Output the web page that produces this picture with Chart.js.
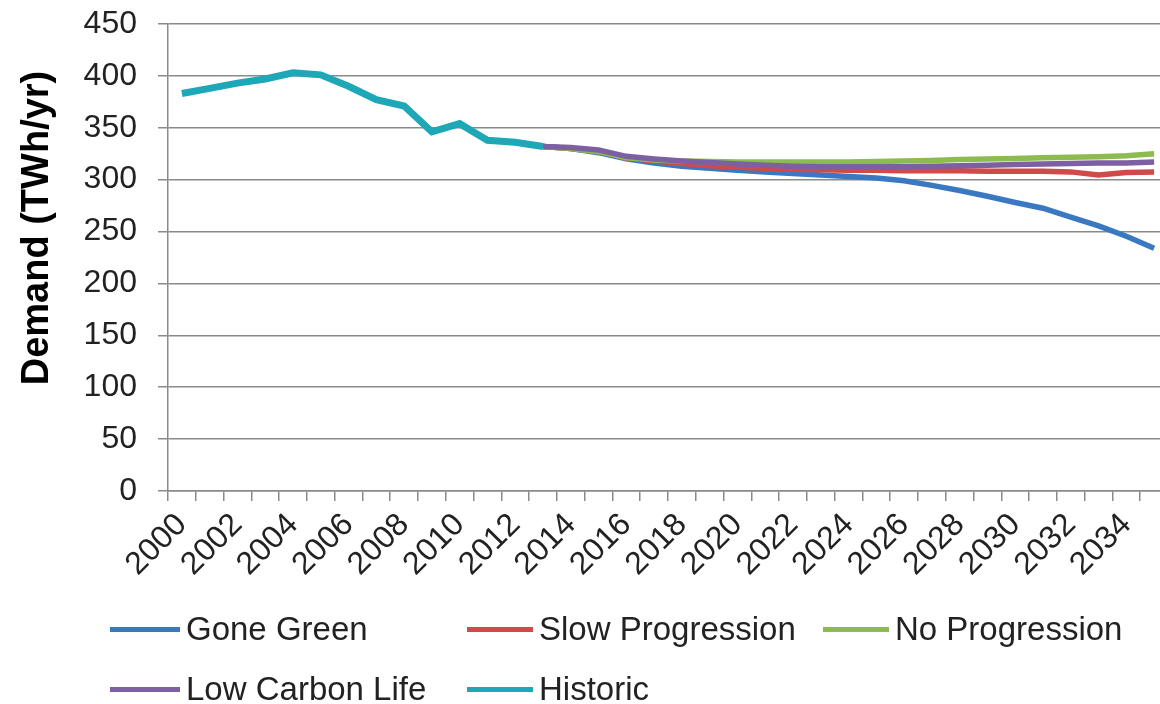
<!DOCTYPE html>
<html>
<head>
<meta charset="utf-8">
<script src="https://cdn.jsdelivr.net/npm/chart.js@4.4.1/dist/chart.umd.min.js"></script>
<style>
    html, body { margin: 0; padding: 0; background: #fff; overflow: hidden; }
    #wrap { position: relative; width: 1172px; height: 704px; }
    .legend-item {
        position: absolute;
        display: flex;
        align-items: center;
        height: 40px;
        font-family: "Liberation Sans", Arial, sans-serif;
        font-size: 33px;
        color: #222;
        white-space: nowrap;
    }
    .legend-line { display: inline-block; height: 5px; margin-right: 6px; }
</style>
</head>
<body>
<div id="wrap">
    <canvas id="demandChart" width="1172" height="704"></canvas>
    <div id="legend"></div>
</div>
<script>
// Years on the x axis
const years = [];
for (let y = 2000; y <= 2035; y++) years.push(String(y));

// Historic demand (TWh/yr), 2000-2013
const historic = [383, 388, 393, 397, 403, 401, 390, 377, 371, 346, 354, 338, 336, 332];

// Scenarios, 2013-2035
const goneGreen = [332, 330, 326, 320, 316, 313, 311, 309, 307.5, 306, 304.5, 303, 301.5, 299,
    294.5, 289.5, 284, 278, 272.5, 264, 255.5, 245.5, 234];
const slowProgression = [332, 330, 327, 321, 318, 315.5, 313.5, 312, 311, 310, 309.5, 309, 309, 308.5,
    308.5, 308.5, 308, 308, 308, 307.5, 304.5, 307, 307.5];
const noProgression = [332, 330, 327, 321, 319, 318, 317.5, 317, 317, 317, 317, 317, 317.5, 318,
    318.5, 319.5, 320, 320.5, 321, 321.5, 322, 323, 325];
const lowCarbonLife = [332, 331, 328.5, 322.5, 320, 318, 316.5, 315, 314, 313, 312.5, 312.5, 312.5, 312.5,
    313, 313.5, 314, 314.5, 315, 315.5, 316, 316, 317];

const yTicks = [0, 50, 100, 150, 200, 250, 300, 350, 400, 450];

const FONT = '"Liberation Sans", Arial, sans-serif';

// Pad series to the full year range
function fromYear(start, values) {
    const out = years.map(() => null);
    const offset = years.indexOf(String(start));
    values.forEach((v, i) => { out[offset + i] = v; });
    return out;
}

const series = [
    { label: 'Gone Green', data: fromYear(2013, goneGreen), color: '#3b78c2', width: 5.5 },
    { label: 'Slow Progression', data: fromYear(2013, slowProgression), color: '#cf4a48', width: 5.5 },
    { label: 'No Progression', data: fromYear(2013, noProgression), color: '#8cbc4f', width: 5.5 },
    { label: 'Low Carbon Life', data: fromYear(2013, lowCarbonLife), color: '#7d60a3', width: 5.5 },
    { label: 'Historic', data: fromYear(2000, historic), color: '#1ea7b7', width: 7 }
];

// Rotated y axis title
const yTitlePlugin = {
    id: 'yTitle',
    afterDraw(chart) {
        const ctx = chart.ctx;
        ctx.save();
        ctx.translate(48, 228);
        ctx.rotate(-Math.PI / 2);
        ctx.font = 'bold 38px ' + FONT;
        ctx.fillStyle = '#000';
        ctx.textAlign = 'center';
        ctx.textBaseline = 'alphabetic';
        ctx.fillText('Demand (TWh/yr)', 0, 0);
        ctx.restore();
    }
};

const ctx = document.getElementById('demandChart').getContext('2d');
const chart = new Chart(ctx, {
    type: 'line',
    data: {
        labels: years,
        datasets: series.map((s, i) => ({
            label: s.label,
            data: s.data,
            borderColor: s.color,
            backgroundColor: s.color,
            borderWidth: s.width,
            pointRadius: 0,
            tension: 0,
            fill: false,
            order: series.length - i // later series drawn on top
        }))
    },
    options: {
        responsive: false,
        animation: false,
        layout: { padding: { top: 24, right: 4, left: 0, bottom: 0 } },
        plugins: {
            legend: { display: false },
            tooltip: { enabled: false }
        },
        scales: {
            x: {
                offset: true,
                grid: { offset: true, drawOnChartArea: false, tickLength: 10, color: '#8a8a8a', lineWidth: 1.5 },
                border: { color: '#8a8a8a', width: 1.5 },
                ticks: {
                    autoSkip: false,
                    minRotation: 45,
                    maxRotation: 45,
                    padding: 5,
                    color: '#222',
                    font: { family: FONT, size: 32 },
                    callback: function (value, index) {
                        return index % 2 === 0 ? this.getLabelForValue(value) : '';
                    }
                },
                afterFit: (scale) => {
                    scale.height = 213;
                    scale.paddingLeft = 0;
                    scale.paddingRight = 0;
                }
            },
            y: {
                min: yTicks[0],
                max: yTicks[yTicks.length - 1],
                grid: { color: '#8a8a8a', lineWidth: 1.5, tickLength: 10 },
                border: { color: '#8a8a8a', width: 1.5 },
                ticks: {
                    stepSize: yTicks[1] - yTicks[0],
                    padding: 21,
                    color: '#222',
                    font: { family: FONT, size: 32 }
                },
                afterFit: (scale) => {
                    scale.width = 168;
                    scale.paddingTop = 0;
                    scale.paddingBottom = 0;
                }
            }
        }
    },
    plugins: [yTitlePlugin]
});

// HTML legend laid out in columns like the original
const legendSlots = [
    { left: 110, top: 609, line: 70 },
    { left: 467, top: 609, line: 66 },
    { left: 823, top: 609, line: 66 },
    { left: 110, top: 669, line: 70 },
    { left: 467, top: 669, line: 66 }
];
const legendEl = document.getElementById('legend');
legendEl.innerHTML = chart.data.datasets.map((ds, i) => `
    <div class="legend-item" style="left:${legendSlots[i].left}px; top:${legendSlots[i].top}px;">
        <span class="legend-line" style="width:${legendSlots[i].line}px; background:${ds.borderColor};"></span>${ds.label}
    </div>
`).join('');
</script>
</body>
</html>
